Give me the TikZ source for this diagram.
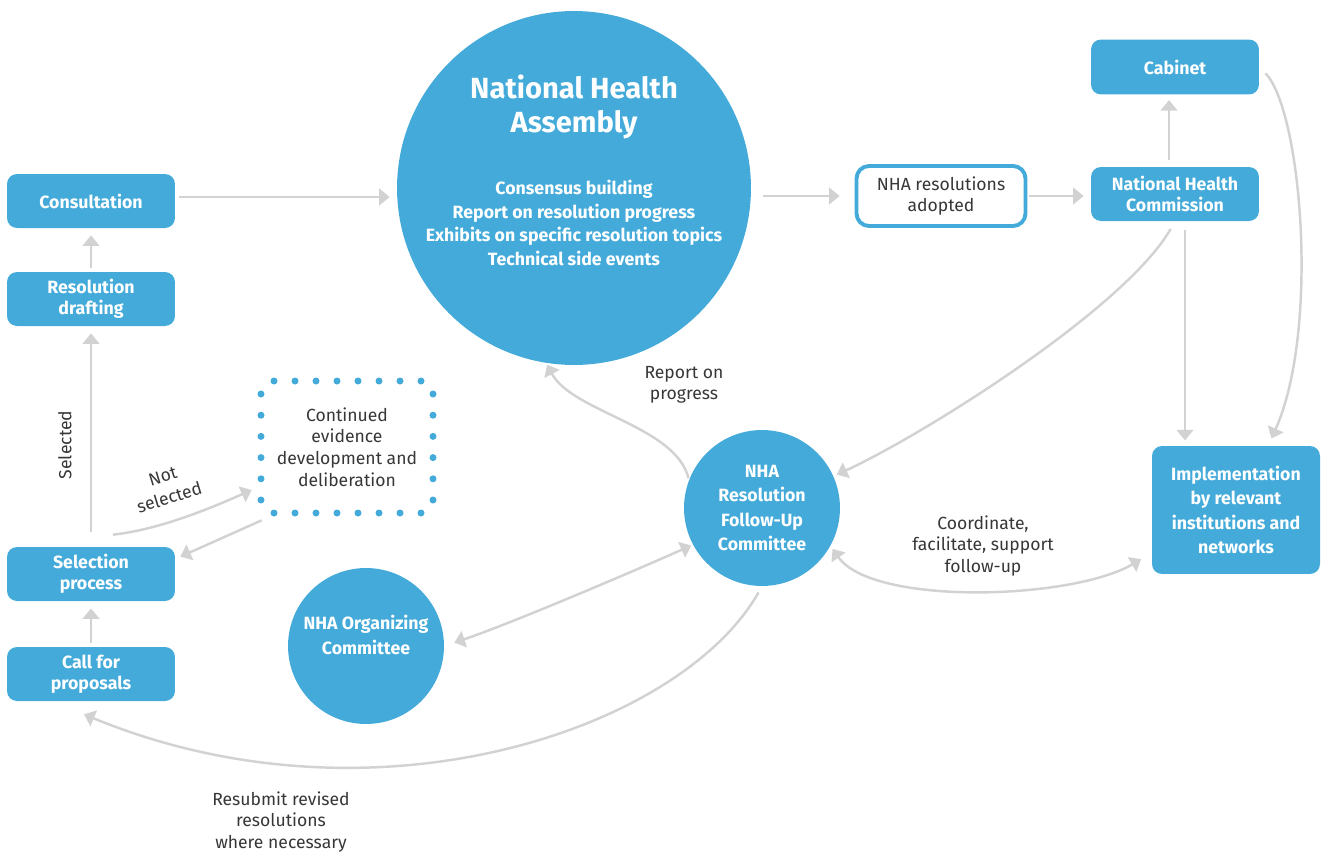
\documentclass[tikz,border=0pt]{standalone}
\usepackage{fontspec}
\setmainfont{Fira Sans}
\usetikzlibrary{arrows.meta,calc}
\definecolor{nhablue}{RGB}{67,170,218}
\definecolor{linegray}{RGB}{210,210,210}
\definecolor{textgray}{RGB}{55,55,55}
\tikzset{
	bluebox/.style={fill=nhablue, rounded corners=0.2cm, minimum width=3.36cm, minimum height=1.08cm, inner sep=0pt, text=white, align=center, font=\bfseries\fontsize{10.1}{11.9}\selectfont},
	bluecirc/.style={circle, fill=nhablue, inner sep=0pt, text=white, align=center, font=\bfseries\fontsize{10.1}{13.8}\selectfont},
	lbl/.style={text=textgray, align=center, font=\fontsize{10}{12.3}\selectfont},
	conn/.style={draw=linegray, line width=1.4pt, shorten <=2pt, shorten >=4pt, -{Triangle[length=6pt,width=9.5pt]}},
	dconn/.style={conn, {Triangle[length=6pt,width=9.5pt]}-{Triangle[length=6pt,width=9.5pt]}},
}

\begin{document}
\begin{tikzpicture}[x=0.02cm, y=-0.02cm]
			%%%%% START %%%%%
			\useasboundingbox (0,0) rectangle (1325,856);
			
			% left column
			\node[bluebox] (cons) at (91,201) {Consultation};
			\node[bluebox] (draft) at (91,299) {Resolution\\drafting};
			\node[bluebox] (sel) at (91,574) {Selection\\process};
			\node[bluebox] (call) at (91,674) {Call for\\proposals};
			
			% assembly
			\node[bluecirc, minimum size=7.08cm] (nha) at (574,188) {};
			\node[text=white, align=center, font=\bfseries\fontsize{16.6}{19.8}\selectfont] (nhatitle) at (574,107) {National Health\\Assembly};
			\node[text=white, align=center, font=\bfseries\fontsize{10.1}{13.3}\selectfont] (nhaitems) at (574,223) {Consensus building\\Report on resolution progress\\Exhibits on specific resolution topics\\Technical side events};
			
			\node[draw=nhablue, line width=2.2pt, fill=white, rounded corners=0.25cm, minimum width=3.38cm, minimum height=1.2cm, lbl] (adopt) at (941,196) {NHA resolutions\\adopted};
			\node[bluebox] (nhc) at (1175,194) {National Health\\Commission};
			\node[bluebox, minimum height=1.1cm] (cab) at (1175,67) {Cabinet};
			\node[bluebox, minimum height=2.56cm, font=\bfseries\fontsize{10.1}{13.8}\selectfont] (impl) at (1236,510) {Implementation\\by relevant\\institutions and\\networks};
			
			% committees
			\node[bluecirc, minimum size=3.12cm] (fu) at (762,508) {NHA\\Resolution\\Follow-Up\\Committee};
			\node[bluecirc, minimum size=3.12cm] (org) at (366,646) {};
			\node[text=white, align=center, font=\bfseries\fontsize{10.1}{13.8}\selectfont] (orgtext) at (366,635) {NHA Organizing\\Committee};
			
			% dotted box
			\node[lbl, minimum width=3.44cm, minimum height=2.64cm] (cont) at (347,447) {Continued\\evidence\\development and\\deliberation};
			\foreach \i in {0,...,7} {
				\fill[nhablue] (274+21*\i,381) circle[radius=0.07cm];
				\fill[nhablue] (274+21*\i,513) circle[radius=0.07cm];
			}
			\foreach \j in {0,...,5} {
				\fill[nhablue] (261,394+21.2*\j) circle[radius=0.07cm];
				\fill[nhablue] (433,394+21.2*\j) circle[radius=0.07cm];
			}
			
			% labels
			\node[lbl, rotate=90] (lblsel) at (65,445) {Selected};
			\node[lbl, rotate=17, font=\fontsize{10}{12.8}\selectfont] (lblnot) at (166,487) {Not\\selected};
			\node[lbl] (lblrep) at (684,385) {Report on\\progress};
			\node[lbl] (lblcoord) at (983,546) {Coordinate,\\facilitate, support\\follow-up};
			\node[lbl] (lblresub) at (281,822) {Resubmit revised\\resolutions\\where necessary};
			
			% straight arrows
			\draw[conn] (draft) -- (cons);
			\draw[conn, shorten <=8.5pt] (sel) -- (draft);
			\draw[conn] (call) -- (sel);
			\draw[conn] ($(cons.east)+(0,-4)$) -- ($(cons.east -| nha.west)+(0,-4)$);
			\draw[conn, shorten <=6.8pt, shorten >=8.5pt] (adopt.west -| nha.east) -- (adopt.west);
			\draw[conn, shorten <=1pt] (adopt.east) -- (adopt.east -| nhc.west);
			\draw[conn, shorten <=4pt, shorten >=3pt] ($(nhc.north)+(-6,0)$) -- ($(cab.south)+(-6,0)$);
			\draw[conn, shorten <=5pt, shorten >=3pt] ($(nhc.south)+(10,0)$) -- ($(impl.north)+(-51,0)$);
			\draw[conn, shorten <=0pt, shorten >=0pt] ($(cont.south west)+(1,7)$) -- ($(sel.north east)+(5,10)$);
			
			% curved arrows
			\draw[conn, shorten <=0pt, shorten >=0pt] ($(sel.north)+(22,-12)$) .. controls +(45,-5) and +(-45,20) .. ($(cont.west)+(-9,43)$);
			\draw[conn, shorten <=1pt, shorten >=1pt] (fu.159) .. controls +(-13,-54) and +(26,49) .. (nha.261);
			\draw[conn, shorten <=5pt, shorten >=2pt] (cab.east) .. controls +(42,43) and +(50,-112) .. ($(impl.north)+(34,-4)$);
			\draw[conn, shorten <=5pt, shorten >=2pt] (nhc.south) .. controls +(-50,87) and +(91,-42) .. (fu.24);
			\draw[dconn, shorten <=1pt, shorten >=6pt] (fu.208) .. controls +(-65,29) and +(65,-22) .. (org.east);
			\draw[dconn, shorten <=2pt, shorten >=7pt] (fu.-29) .. controls +(42,60) and +(-80,47) .. (impl.207);
			\draw[conn, shorten <=4pt, shorten >=0pt] (fu.south) .. controls +(-82,144) and +(289,119) .. ($(call.south)+(-7,13)$);
			
			%%%%% END %%%%%
\end{tikzpicture}
\end{document}
